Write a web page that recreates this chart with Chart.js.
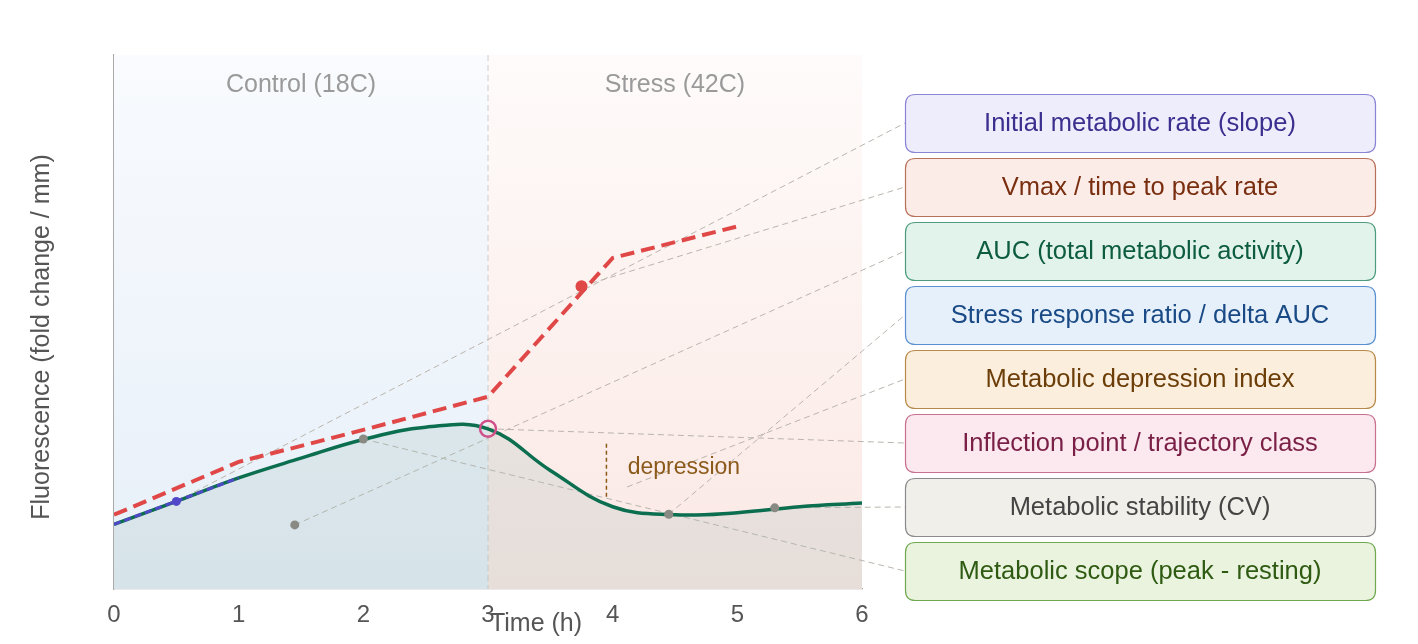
<!DOCTYPE html>
<html>
<head>
<meta charset="utf-8">
<script src="https://cdn.jsdelivr.net/npm/chart.js@4"></script>
<style>
  html, body { margin: 0; padding: 0; background: #fff; }
  #wrap { width: 1418px; height: 644px; }
</style>
</head>
<body>
<div id="wrap"><canvas id="chart" width="1418" height="644"></canvas></div>
<script>
// time points (h) and fluorescence curves
const timeFine = [0, 0.5, 1, 1.5, 2, 2.5, 3, 3.5, 4, 4.5, 5, 5.5, 6];
const heatShockCurve = [1.21, 1.64, 2.08, 2.45, 2.80, 3.03, 3.00, 2.22, 1.54, 1.39, 1.43, 1.54, 1.61];
const timeRate = [0, 1, 2, 3, 4, 5];
const rateCurve = [1.39, 2.38, 2.98, 3.60, 6.20, 6.79];
const slopeX = [0, 1];
const slopeY = [1.21, 2.08];
const xTicks = [0, 1, 2, 3, 4, 5, 6];

// phases
const phaseNames = ['Control (18C)', 'Stress (42C)'];
const phaseBounds = [[0, 3], [3, 6]];

// marker points
const slopeDot = { x: 0.5, y: 1.64 };
const vmaxDot = { x: 3.75, y: 5.67 };
const inflectionDot = { x: 3, y: 3.0 };
const aucDot = { x: 1.45, y: 1.20 };
const peakDot = { x: 2, y: 2.81 };
const restDot = { x: 4.45, y: 1.40 };
const stableDot = { x: 5.3, y: 1.52 };
const depressionTop = 2.72, depressionBottom = 1.67, depressionX = 3.95;
const depressionLabel = { x: 4.12, y: 2.28 };
const depressionAnchor = { x: 4.115, y: 1.91 };

// metric boxes on the right, in order top to bottom
const metricLabels = [
  'Initial metabolic rate (slope)',
  'Vmax / time to peak rate',
  'AUC (total metabolic activity)',
  'Stress response ratio / delta AUC',
  'Metabolic depression index',
  'Inflection point / trajectory class',
  'Metabolic stability (CV)',
  'Metabolic scope (peak - resting)'
];
const metricAnchors = [slopeDot, vmaxDot, aucDot, restDot, depressionAnchor, inflectionDot, stableDot, peakDot];
const boxFill = ['#ededfb', '#fbece7', '#e2f3ec', '#e6f0fb', '#fbeedc', '#fbe9ef', '#f1efea', '#e9f3de'];
const boxLine = ['#8a84d6', '#b8705a', '#4e9c7e', '#5b8fd0', '#b88a4a', '#c8708f', '#8a8a8a', '#70a850'];
const boxText = ['#3a2f8f', '#7a2e10', '#0d5c40', '#1a4a85', '#6b3d08', '#7a1f45', '#444444', '#2e5a12'];

const FONT = '"Liberation Sans", Arial, sans-serif';

function roundRect(ctx, x, y, w, h, r) {
  ctx.beginPath();
  ctx.moveTo(x + r, y);
  ctx.lineTo(x + w - r, y);
  ctx.quadraticCurveTo(x + w, y, x + w, y + r);
  ctx.lineTo(x + w, y + h - r);
  ctx.quadraticCurveTo(x + w, y + h, x + w - r, y + h);
  ctx.lineTo(x + r, y + h);
  ctx.quadraticCurveTo(x, y + h, x, y + h - r);
  ctx.lineTo(x, y + r);
  ctx.quadraticCurveTo(x, y, x + r, y);
  ctx.closePath();
}

const decor = {
  id: 'decor',
  beforeDatasetsDraw(chart) {
    const { ctx, chartArea: a, scales: { x, y } } = chart;
    ctx.save();
    // phase backgrounds
    const cols = [['#f9fbfe', '#e6eff8'], ['#fefbfa', '#fbe8e4']];
    phaseBounds.forEach((b, i) => {
      const x0 = x.getPixelForValue(b[0]), x1 = x.getPixelForValue(b[1]);
      const g = ctx.createLinearGradient(0, a.top, 0, a.bottom);
      g.addColorStop(0, cols[i][0]);
      g.addColorStop(1, cols[i][1]);
      ctx.fillStyle = g;
      ctx.fillRect(x0, a.top, x1 - x0, a.bottom - a.top);
      ctx.fillStyle = '#9a9a9a';
      ctx.font = '25px ' + FONT;
      ctx.textAlign = 'center';
      ctx.textBaseline = 'middle';
      ctx.fillText(phaseNames[i], (x0 + x1) / 2, a.top + 30);
    });
    // phase divider
    ctx.strokeStyle = '#cccccc';
    ctx.lineWidth = 1;
    ctx.setLineDash([6, 4]);
    const xd = x.getPixelForValue(phaseBounds[1][0]);
    ctx.beginPath();
    ctx.moveTo(xd, a.top);
    ctx.lineTo(xd, a.bottom);
    ctx.stroke();
    // connectors
    ctx.strokeStyle = '#bab5ad';
    ctx.setLineDash([6, 4]);
    metricAnchors.forEach((p, i) => {
      ctx.beginPath();
      ctx.moveTo(x.getPixelForValue(p.x), y.getPixelForValue(p.y));
      ctx.lineTo(905, 123 + i * 64);
      ctx.stroke();
    });
    ctx.restore();
  },
  afterDraw(chart) {
    const { ctx, chartArea: a, scales: { x, y } } = chart;
    ctx.save();
    // depression label
    ctx.fillStyle = '#8b5a1a';
    ctx.font = '23px ' + FONT;
    ctx.textAlign = 'left';
    ctx.textBaseline = 'middle';
    ctx.fillText('depression', x.getPixelForValue(depressionLabel.x), y.getPixelForValue(depressionLabel.y));
    // axis titles
    ctx.fillStyle = '#555';
    ctx.font = '25px ' + FONT;
    ctx.textAlign = 'center';
    ctx.fillText('Time (h)', 536, 624);
    ctx.translate(42, 337);
    ctx.rotate(-Math.PI / 2);
    ctx.fillText('Fluorescence (fold change / mm)', 0, 0);
    ctx.setTransform(1, 0, 0, 1, 0, 0);
    // metric boxes
    metricLabels.forEach((t, i) => {
      const top = 94 + i * 64;
      roundRect(ctx, 905.5, top + 0.5, 470, 58, 10);
      ctx.fillStyle = boxFill[i];
      ctx.fill();
      ctx.strokeStyle = boxLine[i];
      ctx.lineWidth = 1.2;
      ctx.stroke();
      ctx.fillStyle = boxText[i];
      ctx.font = '25.5px ' + FONT;
      ctx.textAlign = 'center';
      ctx.textBaseline = 'middle';
      ctx.fillText(t, 1140, top + 30);
    });
    ctx.restore();
  }
};

const pts = (xs, ys) => xs.map((v, i) => ({ x: v, y: ys[i] }));

new Chart(document.getElementById('chart').getContext('2d'), {
  type: 'line',
  data: {
    datasets: [
      {
        label: 'Inflection',
        data: [inflectionDot],
        showLine: false,
        pointRadius: 8,
        pointBorderWidth: 2.5,
        pointBorderColor: '#d0508a',
        pointBackgroundColor: 'rgba(0,0,0,0)'
      },
      {
        label: 'Markers',
        data: [aucDot, peakDot, restDot, stableDot],
        showLine: false,
        pointRadius: 4.5,
        pointBorderWidth: 0,
        pointBackgroundColor: '#8a8a84'
      },
      {
        label: 'Slope dot',
        data: [slopeDot],
        showLine: false,
        pointRadius: 4.5,
        pointBorderWidth: 0,
        pointBackgroundColor: '#5048c8'
      },
      {
        label: 'Vmax dot',
        data: [vmaxDot],
        showLine: false,
        pointRadius: 6,
        pointBorderWidth: 0,
        pointBackgroundColor: '#e04848'
      },
      {
        label: 'Depression',
        data: [{ x: depressionX, y: depressionTop }, { x: depressionX, y: depressionBottom }],
        borderColor: '#8b5a1a',
        borderWidth: 1.5,
        borderDash: [4, 3],
        pointRadius: 0
      },
      {
        label: 'Slope',
        data: pts(slopeX, slopeY),
        borderColor: '#5048c8',
        borderWidth: 3,
        borderDash: [7, 4],
        pointRadius: 0
      },
      {
        label: 'Rate',
        data: pts(timeRate, rateCurve),
        borderColor: '#e04848',
        borderWidth: 4,
        borderDash: [14, 7],
        pointRadius: 0,
        tension: 0
      },
      {
        label: 'Fluorescence',
        data: pts(timeFine, heatShockCurve),
        borderColor: '#0b6e4f',
        borderWidth: 3.5,
        pointRadius: 0,
        tension: 0.4,
        fill: 'origin',
        backgroundColor: 'rgba(160,185,180,0.22)'
      }
    ]
  },
  options: {
    responsive: false,
    animation: false,
    layout: { padding: { top: 55, right: 556, left: 0, bottom: 0 } },
    plugins: { legend: { display: false }, tooltip: { enabled: false } },
    scales: {
      x: {
        type: 'linear',
        min: 0,
        max: 6,
        afterFit(s) { s.height = 55; },
        afterBuildTicks(s) { s.ticks = xTicks.map(v => ({ value: v })); },
        grid: { display: false },
        border: { display: true, color: '#aaaaaa', width: 1.2 },
        ticks: { color: '#555', font: { size: 24, family: FONT }, padding: 4 }
      },
      y: {
        min: 0,
        max: 10,
        afterFit(s) { s.width = 114; },
        grid: { display: false },
        border: { display: true, color: '#aaaaaa', width: 1.2 },
        ticks: { display: false }
      }
    }
  },
  plugins: [decor]
});
</script>
</body>
</html>
